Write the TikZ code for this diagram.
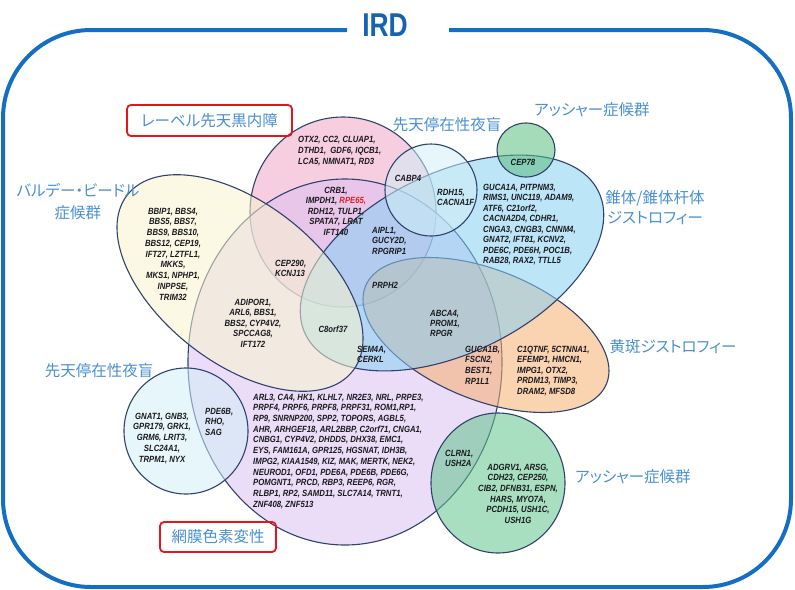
\documentclass[tikz,border=0pt]{standalone}
\usepackage{fontspec}
\newfontfamily\jpfont[RawFeature=+palt]{Noto Sans CJK JP}
\newfontfamily\genefont[FakeStretch=0.86]{Liberation Sans}
\newfontfamily\irdfont[FakeStretch=0.8]{Liberation Sans}
\definecolor{outl}{RGB}{48,66,110}
\definecolor{pinkC}{RGB}{240,164,199}
\definecolor{rpC}{RGB}{219,193,241}
\definecolor{macC}{RGB}{246,175,111}
\definecolor{blueC}{RGB}{135,208,242}
\definecolor{bbsC}{RGB}{248,244,206}
\definecolor{csnbC}{RGB}{209,239,246}
\definecolor{ushC}{RGB}{97,197,140}
\definecolor{ushTopC}{RGB}{90,190,125}
\definecolor{jblue}{RGB}{74,144,210}
\definecolor{frameblue}{RGB}{20,110,195}
\definecolor{irdblue}{RGB}{22,100,175}
\definecolor{boxred}{RGB}{232,20,28}
\definecolor{genec}{RGB}{25,25,30}
\definecolor{rpered}{RGB}{230,30,35}
\begin{document}
\begin{tikzpicture}[x=1pt,y=-1pt,
  venn/.style={draw=outl, line width=1.1pt, fill opacity=0.55},
  genes/.style={font=\genefont\fontsize{9}{10.7}\selectfont\bfseries\itshape, text=genec, inner sep=0pt},
  gl/.style={genes, align=left, anchor=north west},
  gc/.style={genes, align=center, anchor=north},
  jlabel/.style={font=\jpfont\fontsize{15.5}{21}\selectfont, text=jblue, align=center, inner sep=0pt},
  redbox/.style={draw=boxred, line width=1.8pt, rounded corners=4pt, inner sep=0pt},
  frameline/.style={draw=frameblue, line width=4pt, rounded corners=88pt}]
\useasboundingbox (0,0) rectangle (795,589);

% outer frame and title
\coordinate (fa) at (347,30);
\coordinate (fb) at (3,30);
\coordinate (fc) at (3,587);
\coordinate (fd) at (791,587);
\coordinate (fe) at (791,30);
\coordinate (ff) at (449,30);
\draw[frameline] (fa) -- (fb) -- (fc) -- (fd) -- (fe) -- (ff);
\node[font=\irdfont\bfseries\fontsize{33}{33}\selectfont, text=irdblue, inner sep=0pt] (ird) at (385,25) {IRD};

% sets
\path[venn, fill=pinkC] (343,212) ellipse [x radius=93pt, y radius=95pt];
\path[venn, fill=rpC] (345,362) ellipse [x radius=157pt, y radius=183pt];
\path[venn, fill=macC] (486,335) ellipse [x radius=130pt, y radius=65pt, rotate=-22];
\path[venn, fill=blueC] (452,263) ellipse [x radius=163pt, y radius=90pt, rotate=26];
\path[venn, fill=bbsC] (240,283) ellipse [x radius=143pt, y radius=80pt, rotate=-38];
\path[venn, fill=csnbC] (431,190) circle [radius=46pt];
\path[venn, fill=ushTopC] (526,150) ellipse [x radius=29pt, y radius=27pt];
\path[venn, fill=csnbC] (186,431) ellipse [x radius=62pt, y radius=63pt];
\path[venn, fill=ushC] (498,483) ellipse [x radius=67pt, y radius=70pt];

% labels
\node[jlabel, redbox, minimum width=165pt, minimum height=31pt] (lca) at (209.5,120.5) {レーベル先天黒内障};
\node[jlabel] (csnbtop) at (447,125) {先天停在性夜盲};
\node[jlabel] (ushtop) at (592,110) {アッシャー症候群};
\node[jlabel, font=\jpfont\fontsize{15.5}{22}\selectfont] (bbs) at (78,202) {バルデー・ビードル\\症候群};
\node[jlabel, font=\jpfont\fontsize{15.5}{20}\selectfont] (crd) at (655,208) {錐体/錐体杆体\\ジストロフィー};
\node[jlabel] (mac) at (673,347) {黄斑ジストロフィー};
\node[jlabel] (csnbleft) at (99,371) {先天停在性夜盲};
\node[jlabel] (ushbot) at (633,477) {アッシャー症候群};
\node[jlabel, redbox, minimum width=116pt, minimum height=30pt] (rp) at (218,537) {網膜色素変性};

% gene lists
\node[gl, font=\genefont\fontsize{9}{11.3}\selectfont\bfseries\itshape] (g1) at (298,135.7) {OTX2, CC2, CLUAP1,\\DTHD1,\ \ GDF6, IQCB1,\\LCA5, NMNAT1, RD3};
\node[genes] (g2) at (408,178) {CABP4};
\node[gc, font=\genefont\fontsize{9}{10.5}\selectfont\bfseries\itshape] (g3) at (336,186.7) {CRB1,\\IMPDH1, \textcolor{rpered}{RPE65,}\\RDH12, TULP1,\\SPATA7, LRAT\\IFT140};
\node[gl] (g4) at (437,188.7) {RDH15,\\CACNA1F};
\node[gl] (g5) at (372,226.7) {AIPL1,\\GUCY2D,\\RPGRIP1};
\node[gl] (g6) at (275,259.7) {CEP290,\\KCNJ13};
\node[genes, anchor=west] (g7) at (372,285) {PRPH2};
\node[gl, font=\genefont\fontsize{9}{10}\selectfont\bfseries\itshape] (g8) at (430,309.7) {ABCA4,\\PROM1,\\RPGR};
\node[gc, font=\genefont\fontsize{9}{10.5}\selectfont\bfseries\itshape] (g9) at (253,298.7) {ADIPOR1,\\ARL6, BBS1,\\BBS2, CYP4V2,\\SPCCAG8,\\IFT172};
\node[genes] (g10) at (333,329) {C8orf37};
\node[gl] (g11) at (357,345.7) {SEM4A,\\CERKL};
\node[gc, font=\genefont\fontsize{9}{10.75}\selectfont\bfseries\itshape] (g12) at (173,207.7) {BBIP1, BBS4,\\BBS5, BBS7,\\BBS9, BBS10,\\BBS12, CEP19,\\IFT27, LZTFL1,\\MKKS,\\MKS1, NPHP1,\\INPPSE,\\TRIM32};
\node[gl, font=\genefont\fontsize{9}{10.5}\selectfont\bfseries\itshape] (g13) at (483,183.7) {GUCA1A, PITPNM3,\\RIMS1, UNC119, ADAM9,\\ATF6, C21orf2,\\CACNA2D4, CDHR1,\\CNGA3, CNGB3, CNNM4,\\GNAT2, IFT81, KCNV2,\\PDE6C, PDE6H, POC1B,\\RAB28, RAX2, TTLL5};
\node[genes] (g14) at (523,162) {CEP78};
\node[gl] (g15) at (465,345.7) {GUCA1B,\\FSCN2,\\BEST1,\\RP1L1};
\node[gl, font=\genefont\fontsize{9}{10.5}\selectfont\bfseries\itshape] (g16) at (517,345.7) {C1QTNF, 5CTNNA1,\\EFEMP1, HMCN1,\\IMPG1, OTX2,\\PRDM13, TIMP3,\\DRAM2, MFSD8};
\node[gc, font=\genefont\fontsize{9}{10.75}\selectfont\bfseries\itshape] (g17) at (162,412.7) {GNAT1, GNB3,\\GPR179, GRK1,\\GRM6, LRIT3,\\SLC24A1,\\TRPM1, NYX};
\node[gl] (g18) at (205,407.7) {PDE6B,\\RHO,\\SAG};
\node[gl] (g19) at (253,393.7) {ARL3, CA4, HK1, KLHL7, NR2E3, NRL, PRPE3,\\PRPF4, PRPF6, PRPF8, PRPF31, ROM1,RP1,\\RP9, SNRNP200, SPP2, TOPORS, AGBL5,\\AHR, ARHGEF18, ARL2BBP, C2orf71, CNGA1,\\CNBG1, CYP4V2, DHDDS, DHX38, EMC1,\\EYS, FAM161A, GPR125, HGSNAT, IDH3B,\\IMPG2, KIAA1549, KIZ, MAK, MERTK, NEK2,\\NEUROD1, OFD1, PDE6A, PDE6B, PDE6G,\\POMGNT1, PRCD, RBP3, REEP6, RGR,\\RLBP1, RP2, SAMD11, SLC7A14, TRNT1,\\ZNF408, ZNF513};
\node[gl] (g20) at (445,449.7) {CLRN1,\\USH2A};
\node[gc] (g21) at (518,463.7) {ADGRV1, ARSG,\\CDH23, CEP250,\\CIB2, DFNB31, ESPN,\\HARS, MYO7A,\\PCDH15, USH1C,\\USH1G};
\end{tikzpicture}
\end{document}
